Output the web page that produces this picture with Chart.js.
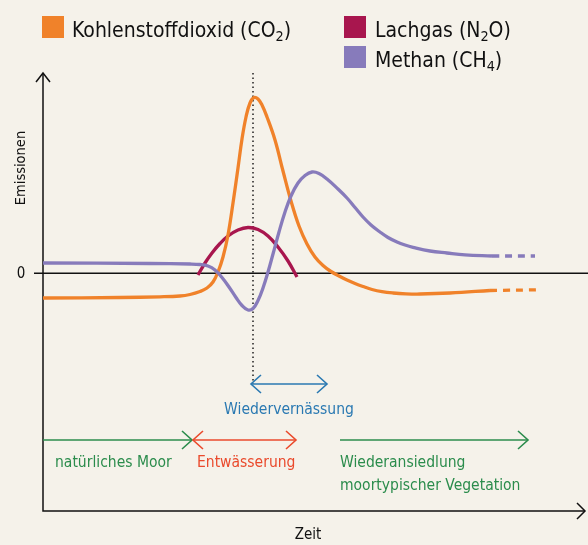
<!DOCTYPE html>
<html><head><meta charset="utf-8">
<script src="https://cdn.jsdelivr.net/npm/chart.js@4/dist/chart.umd.min.js"></script>
<style>html,body{margin:0;padding:0;background:#f5f2ea;}canvas{display:block}</style>
</head><body><canvas id="c" width="588" height="545"></canvas>
<script>
// ---- Data (time units 0..108, emission units; 0 = zero line) ----
const co2X = [0, 15.4, 23.4, 27.4, 29.4, 31.4, 32.8, 34.0, 35.0, 36.0, 37.0, 38.0, 39.0, 39.8, 40.6, 41.4, 42.2, 43.0, 43.8, 44.8, 46.4, 48.0, 49.6, 51.2, 52.8, 54.4, 56.0, 57.6, 59.2, 60.8, 62.4, 64.0, 65.8, 67.8, 70.0, 72.6, 75.4, 81.4, 89.4];
const co2Y = [-2.48, -2.43, -2.36, -2.28, -2.13, -1.83, -1.48, -0.88, 0.12, 1.62, 3.82, 7.02, 10.52, 13.42, 15.62, 17.02, 17.57, 17.42, 16.82, 15.62, 13.32, 10.22, 7.22, 4.72, 2.92, 1.62, 0.77, 0.17, -0.28, -0.68, -1.03, -1.33, -1.63, -1.85, -1.98, -2.06, -2.08, -1.98, -1.73];
const co2TrendX = [89.4, 99.2];
const co2TrendY = [-1.73, -1.66];

const ch4X = [0, 21.4, 29.4, 31.4, 33.0, 34.4, 35.8, 37.2, 38.6, 39.8, 41.0, 42.0, 43.0, 44.0, 45.0, 46.0, 47.2, 48.4, 49.6, 51.0, 52.4, 53.8, 55.2, 56.8, 59.0, 60.8, 62.4, 64.0, 65.6, 67.4, 69.0, 70.8, 72.4, 74.0, 77.4, 80.8, 84.4, 89.8];
const ch4Y = [1.02, 0.97, 0.92, 0.87, 0.72, 0.32, -0.43, -1.38, -2.43, -3.23, -3.68, -3.53, -2.73, -1.48, 0.12, 1.92, 4.12, 6.12, 7.72, 9.02, 9.77, 10.12, 9.97, 9.42, 8.42, 7.52, 6.57, 5.62, 4.82, 4.12, 3.57, 3.12, 2.82, 2.59, 2.22, 2.02, 1.84, 1.72];
const ch4TrendX = [89.8, 98.4];
const ch4TrendY = [1.72, 1.72];

const n2oX = [31.0, 32.4, 33.8, 35.4, 37.0, 39.0, 41.0, 43.0, 45.0, 47.0, 49.0, 50.8];
const n2oY = [-0.18, 1.02, 2.02, 2.97, 3.72, 4.32, 4.57, 4.37, 3.72, 2.62, 1.22, -0.38];

const seriesNames = ["Kohlenstoffdioxid (CO", "2", ")", "Lachgas (N", "2", "O)", "Methan (CH", "4", ")"];
const peakTime = 42.0; // start of Wiedervernässung
const phaseNames = ["natürliches Moor", "Entwässerung", "Wiedervernässung", "Wiederansiedlung", "moortypischer Vegetation"];
const phaseStart = [0, 30.0, 41.6, 59.4];
const phaseEnd = [29.8, 50.6, 56.8, 97.0];
const axisLabels = ["Emissionen", "Zeit", "0"];

const C_CO2 = '#f0822a', C_N2O = '#a8164e', C_CH4 = '#877bbb';
const C_GREEN = '#2b8c4c', C_RED = '#ea4a2c', C_BLUE = '#2a79b2';
const FONT = '"DejaVu Sans Condensed", "Open Sans", sans-serif';

const pts = (xs, ys) => xs.map((x, i) => ({x, y: ys[i]}));

function chevron(ctx, x, y, dir, len, half) {
  ctx.beginPath();
  ctx.moveTo(x - dir * len, y - half);
  ctx.lineTo(x, y);
  ctx.lineTo(x - dir * len, y + half);
  ctx.stroke();
}
function richText(ctx, parts, x, y, size) {
  let cx = x;
  parts.forEach(p => {
    if (p.sub) {
      ctx.font = (size * 0.68).toFixed(1) + 'px ' + FONT;
      ctx.fillText(p.t, cx, y + size * 0.2);
    } else {
      ctx.font = size + 'px ' + FONT;
      ctx.fillText(p.t, cx, y);
    }
    cx += ctx.measureText(p.t).width;
  });
}

const deco = {
  id: 'deco',
  beforeDraw(chart) {
    const ctx = chart.ctx;
    ctx.save();
    ctx.fillStyle = '#f5f2ea';
    ctx.fillRect(0, 0, chart.width, chart.height);
    const xs = chart.scales.x, ys = chart.scales.y;
    const ca = chart.chartArea;
    const y0 = ys.getPixelForValue(0);
    ctx.strokeStyle = '#111';
    ctx.lineWidth = 1.5;
    ctx.beginPath();
    ctx.moveTo(ca.left, ca.top - 2); ctx.lineTo(ca.left, ca.bottom);
    ctx.lineTo(ca.right + 2, ca.bottom);
    ctx.stroke();
    chevron(ctx, ca.right + 2, ca.bottom, 1, 8, 8);
    ctx.beginPath();
    ctx.moveTo(ca.left - 7, ca.top + 7); ctx.lineTo(ca.left, ca.top - 2); ctx.lineTo(ca.left + 7, ca.top + 7);
    ctx.stroke();
    ctx.beginPath();
    ctx.moveTo(ca.left - 9, y0); ctx.lineTo(chart.width, y0);
    ctx.stroke();
    const px = xs.getPixelForValue(peakTime);
    ctx.setLineDash([1.5, 3]);
    ctx.lineWidth = 1.4;
    ctx.beginPath();
    ctx.moveTo(px, ca.top - 2); ctx.lineTo(px, 384);
    ctx.stroke();
    ctx.setLineDash([]);
    ctx.restore();
  },
  afterDraw(chart) {
    const ctx = chart.ctx;
    const xs = chart.scales.x, ys = chart.scales.y;
    const ca = chart.chartArea;
    ctx.save();
    ctx.fillStyle = '#111';
    ctx.textBaseline = 'middle';
    ctx.font = '15px ' + FONT;
    ctx.textAlign = 'center';
    ctx.fillText(axisLabels[2], 21, ys.getPixelForValue(0) + 1);
    ctx.fillText(axisLabels[1], 308, 535);
    ctx.save();
    ctx.translate(21, 168); ctx.rotate(-Math.PI / 2);
    ctx.font = '14.5px ' + FONT;
    ctx.fillText(axisLabels[0], 0, 0);
    ctx.restore();
    ctx.lineWidth = 1.6;
    const arr = (i, y, col, both) => {
      const a = xs.getPixelForValue(phaseStart[i]), b = xs.getPixelForValue(phaseEnd[i]);
      ctx.strokeStyle = col;
      ctx.beginPath(); ctx.moveTo(a, y); ctx.lineTo(b, y); ctx.stroke();
      chevron(ctx, b, y, 1, 10, 9);
      if (both) chevron(ctx, a, y, -1, 10, 9);
    };
    arr(0, 440, C_GREEN, false);
    arr(1, 440, C_RED, true);
    arr(2, 384, C_BLUE, true);
    arr(3, 440, C_GREEN, false);
    ctx.font = '15.5px ' + FONT;
    ctx.textAlign = 'left';
    ctx.fillStyle = C_GREEN;
    ctx.fillText(phaseNames[0], 55, 463);
    ctx.fillText(phaseNames[3], xs.getPixelForValue(phaseStart[3]), 463);
    ctx.fillText(phaseNames[4], xs.getPixelForValue(phaseStart[3]), 486);
    ctx.fillStyle = C_RED;
    ctx.fillText(phaseNames[1], 197, 463);
    ctx.fillStyle = C_BLUE;
    ctx.textAlign = 'center';
    ctx.fillText(phaseNames[2], (xs.getPixelForValue(phaseStart[2]) + xs.getPixelForValue(phaseEnd[2])) / 2, 410);
    // legend
    ctx.textAlign = 'left';
    ctx.textBaseline = 'alphabetic';
    ctx.fillStyle = C_CO2; ctx.fillRect(42, 16, 22, 22);
    ctx.fillStyle = C_N2O; ctx.fillRect(344, 16, 22, 22);
    ctx.fillStyle = C_CH4; ctx.fillRect(344, 46, 22, 22);
    ctx.fillStyle = '#111';
    const s = seriesNames;
    richText(ctx, [{t: s[0]}, {t: s[1], sub: 1}, {t: s[2]}], 72, 37, 21);
    richText(ctx, [{t: s[3]}, {t: s[4], sub: 1}, {t: s[5]}], 375, 37, 21);
    richText(ctx, [{t: s[6]}, {t: s[7], sub: 1}, {t: s[8]}], 375, 67, 21);
    ctx.restore();
  }
};

const lineDs = (data, color, dash) => ({
  data, borderColor: color, borderWidth: 3.3, pointRadius: 0,
  tension: 0.4, fill: false, borderDash: dash || [], borderCapStyle: 'butt', borderJoinStyle: 'round'
});

new Chart(document.getElementById('c'), {
  type: 'line',
  data: {
    datasets: [
      lineDs(pts(ch4X, ch4Y), C_CH4),
      lineDs(pts(ch4TrendX, ch4TrendY), C_CH4, [7, 6]),
      lineDs(pts(co2X, co2Y), C_CO2),
      lineDs(pts(co2TrendX, co2TrendY), C_CO2, [7, 6]),
      lineDs(pts(n2oX, n2oY), C_N2O)
    ]
  },
  options: {
    responsive: false, animation: false, devicePixelRatio: 1,
    layout: {padding: {left: 43, right: 5, top: 75, bottom: 34}},
    plugins: {legend: {display: false}, tooltip: {enabled: false}},
    scales: {
      x: {type: 'linear', min: 0, max: 108, display: false},
      y: {type: 'linear', min: -23.78, max: 19.82, display: false}
    }
  },
  plugins: [deco]
});
</script>
</body></html>
